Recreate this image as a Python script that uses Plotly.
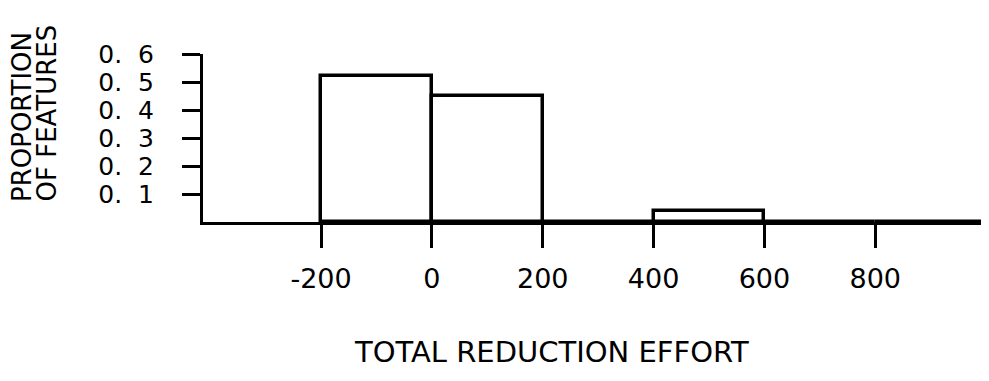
import plotly.graph_objects as go

# ---- data ----
bin_left = [-200, 0, 200, 400, 600, 800]
bin_width = 200
proportion = [0.52, 0.45, 0.0, 0.04, 0.0, 0.0]

x_tick_vals = [-200, 0, 200, 400, 600, 800]
x_tick_text = ["-200", "0", "200", "400", "600", "800"]
y_tick_vals = [0.1, 0.2, 0.3, 0.4, 0.5, 0.6]
y_tick_text = ["0.\u00a0\u00a01", "0.\u00a0\u00a02", "0.\u00a0\u00a03",
               "0.\u00a0\u00a04", "0.\u00a0\u00a05", "0.\u00a0\u00a06"]

x_title = "TOTAL REDUCTION EFFORT"
y_title_lines = ["PROPORTION", "OF FEATURES"]

# ---- layout geometry (pixels) ----
# page has an 8px body margin; figure sized to fit the 989x381 window
OFF = 8
W, H = 981, 373
PLOT_L, PLOT_R, PLOT_T, PLOT_B = 203, 985, 54, 222   # page coordinates
L = PLOT_L - OFF
T = PLOT_T - OFF
R = OFF + W - PLOT_R
B = OFF + H - PLOT_B
pw = PLOT_R - PLOT_L
ph = PLOT_B - PLOT_T

def px_to_paper_x(px):
    return (px - PLOT_L) / pw

def px_to_paper_y(py):
    return (PLOT_B - py) / ph

FONT = "DejaVu Sans"
black = "#000000"

centers = [b + bin_width / 2 for b in bin_left]

fig = go.Figure()
fig.add_trace(go.Bar(
    x=centers,
    y=proportion,
    width=[bin_width] * len(centers),
    marker=dict(color="white", line=dict(color=black, width=3.5)),
    showlegend=False,
    hoverinfo="skip",
))

fig.update_layout(
    width=W, height=H,
    margin=dict(l=L, r=R, t=T, b=B, pad=0),
    paper_bgcolor="white",
    plot_bgcolor="white",
    font=dict(family=FONT, color=black),
    bargap=0,
    xaxis=dict(
        range=[-413, 998],
        showgrid=False, zeroline=False,
        showline=True, linecolor=black, linewidth=3,
        ticks="outside", ticklen=23, tickwidth=3, tickcolor=black,
        tickvals=x_tick_vals, ticktext=x_tick_text,
        tickfont=dict(size=27, family=FONT, color=black),
        ticklabelstandoff=8,
        fixedrange=True,
    ),
    yaxis=dict(
        range=[0, 0.6],
        showgrid=False, zeroline=False,
        showline=True, linecolor=black, linewidth=3,
        ticks="outside", ticklen=18, tickwidth=3, tickcolor=black,
        tickvals=y_tick_vals, ticktext=y_tick_text,
        tickfont=dict(size=25, family=FONT, color=black),
        ticklabelstandoff=23,
        fixedrange=True,
    ),
)

fig.add_annotation(
    text=x_title, xref="paper", yref="paper",
    x=px_to_paper_x(551), y=px_to_paper_y(352),
    xanchor="center", yanchor="middle", showarrow=False,
    font=dict(size=29, family=FONT, color=black),
)
for line, cx in zip(y_title_lines, [22, 46]):
    fig.add_annotation(
        text=line, xref="paper", yref="paper",
        x=px_to_paper_x(cx), y=px_to_paper_y(204),
        xanchor="center", yanchor="bottom", showarrow=False,
        textangle=-90,
        font=dict(size=26, family=FONT, color=black),
    )

fig.write_html("out.html")
